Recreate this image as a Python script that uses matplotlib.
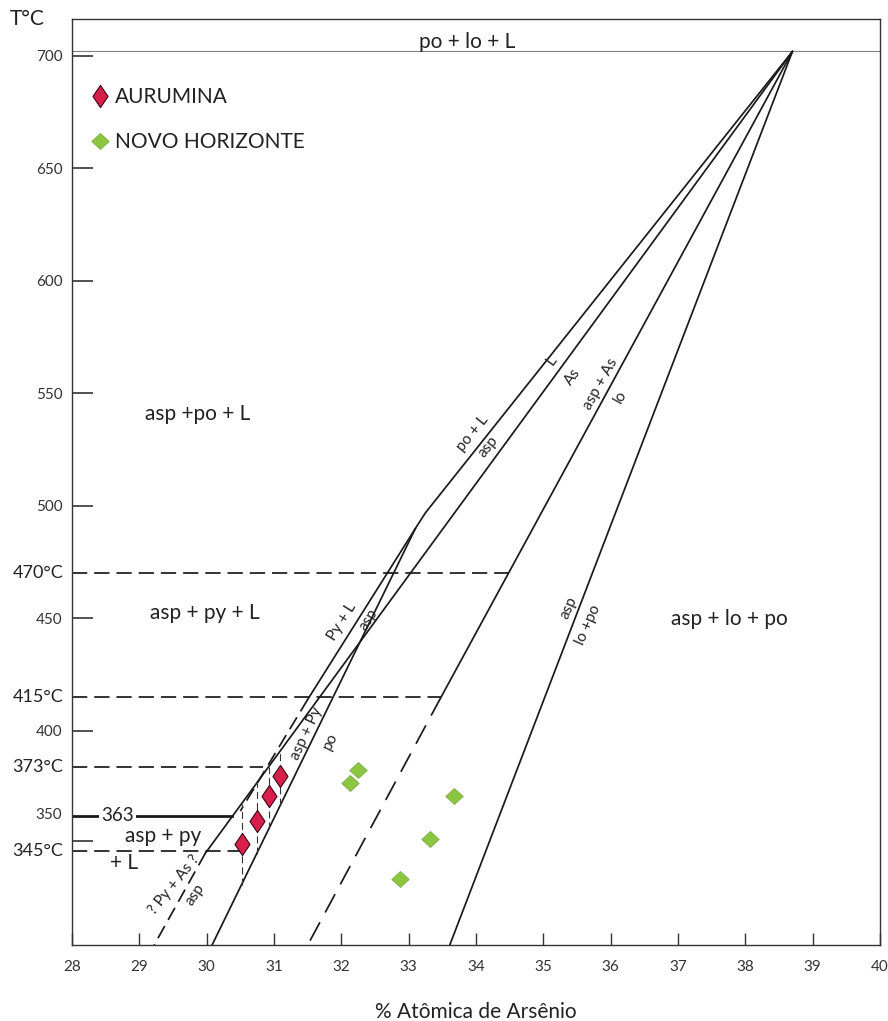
import numpy as np
import matplotlib
matplotlib.use("Agg")
import matplotlib.pyplot as plt
from matplotlib.path import Path
from matplotlib import transforms

plt.rcParams["font.family"] = ["Lato", "DejaVu Sans"]
plt.rcParams["lines.scale_dashes"] = False

# ---------------------------------------------------------------- data
# Arsenopyrite thermometer: at.% As vs temperature (°C)

# Aurumina samples and their temperature ranges
aur_x = [30.52, 30.74, 30.92, 31.09]
aur_T = [348.6, 360.4, 367.1, 371.2]
aur_T_low = [330.0, 343.7, 356.3, 365.3]
aur_T_high = [365.5, 369.7, 373.0, 385.0]

# Novo Horizonte samples
nov_x = [32.25, 32.13, 33.67, 33.32, 32.87]
nov_T = [372.4, 369.7, 367.1, 351.3, 332.5]

# Phase boundaries (solid parts)
bnd_poL_x, bnd_poL_T = [38.7, 33.25, 33.1], [702, 497, 490]          # po+L / asp
bnd_pyL_x, bnd_pyL_T = [33.1, 31.5], [490, 414]                      # py+L / asp
bnd_LAs_x, bnd_LAs_T = [38.7, 29.98], [702, 344]                     # L / As
bnd_aspPy_x, bnd_aspPy_T = [33.1, 30.08], [490, 303.2]               # asp+py / po
bnd_aspAs_x, bnd_aspAs_T = [38.7, 33.48], [702, 415]                 # asp+As / lo
bnd_lopo_x, bnd_lopo_T = [38.7, 33.61], [702, 303.2]                 # asp / lo+po

# Phase boundaries (inferred, dashed parts)
dash_pyL_x, dash_pyL_T = [31.5, 30.5], [414, 364]
dash_pyAs_x, dash_pyAs_T = [29.98, 29.22], [344, 303.2]
dash_aspAs_x, dash_aspAs_T = [33.48, 31.5], [415, 303.2]

# Isotherms: temperature and the composition where each one stops
iso_T = [470, 415, 373, 345]
iso_x_end = [34.48, 33.48, 30.84, 30.51]
iso_labels = ["470°C", "415°C", "373°C", "345°C"]
eut_T, eut_x_end = 363, 30.38
top_T = 702

x_ticks = list(range(28, 41))
y_ticks = [700, 650, 600, 550, 500, 450, 400, 350]
y_ticklabels = ["700", "650", "600", "550", "500", "450", "400", ""]

# Temperature axis is stretched between 345 and 400 °C
T_anchor = np.array([200.0, 345.0, 363.0, 373.0, 400.0, 800.0])
u_anchor = np.array([201.67, 346.67, 362.22, 384.0, 400.0, 800.0])


def fwd(t):
    return np.interp(t, T_anchor, u_anchor)


def inv(u):
    return np.interp(u, u_anchor, T_anchor)


# ---------------------------------------------------------------- figure
fig = plt.figure(figsize=(8.88, 10.21), dpi=100)
ax = fig.add_axes([0.0811, 0.0744, 0.9099, 0.9070])
ax.set_yscale("function", functions=(fwd, inv))
ax.set_xlim(28, 40)
ax.set_ylim(303.2, 716.4)

INK = "#1a1a1a"
LW = 1.25

# solid boundaries
for bx, bT in [(bnd_poL_x, bnd_poL_T), (bnd_pyL_x, bnd_pyL_T),
               (bnd_LAs_x, bnd_LAs_T), (bnd_aspPy_x, bnd_aspPy_T),
               (bnd_aspAs_x, bnd_aspAs_T), (bnd_lopo_x, bnd_lopo_T)]:
    ax.plot(bx, bT, color=INK, lw=LW, solid_capstyle="round", zorder=3)

# dashed boundaries
ax.plot(dash_pyL_x, dash_pyL_T, color=INK, lw=LW, dashes=(10, 5), zorder=3)
ax.plot(dash_pyAs_x, dash_pyAs_T, color=INK, lw=LW, dashes=(10, 5), zorder=3)
ax.plot(dash_aspAs_x, dash_aspAs_T, color=INK, lw=LW, dashes=(15, 8), zorder=3)

# isotherms
for T, xe in zip(iso_T, iso_x_end):
    ax.plot([28, xe], [T, T], color=INK, lw=LW, dashes=(11, 5), zorder=2)
ax.plot([28, eut_x_end], [eut_T, eut_T], color=INK, lw=2.0, zorder=2)
ax.axhline(top_T, color="#808080", lw=0.8, zorder=2)

# sample temperature ranges
ax.vlines(aur_x, aur_T_low, aur_T_high, color="#333333", lw=0.8,
          linestyles=(0, (5, 3)), zorder=4)

# markers
tall_diamond = Path([(0, 1), (0.68, 0), (0, -1), (-0.68, 0), (0, 1)],
                    [Path.MOVETO, Path.LINETO, Path.LINETO, Path.LINETO, Path.CLOSEPOLY])
square_diamond = Path([(0, 0.92), (1, 0), (0, -0.92), (-1, 0), (0, 0.92)],
                      [Path.MOVETO, Path.LINETO, Path.LINETO, Path.LINETO, Path.CLOSEPOLY])

h_aur, = ax.plot(aur_x, aur_T, ls="none", marker=tall_diamond, ms=16,
                 mfc="#d81f4b", mec="#3a0a14", mew=0.8, zorder=6,
                 label="AURUMINA")
h_nov, = ax.plot(nov_x, nov_T, ls="none", marker=square_diamond, ms=12.5,
                 mfc="#8cc63f", mec="#79ad45", mew=0.6, zorder=6,
                 label="NOVO HORIZONTE")

leg = ax.legend(handles=[h_aur, h_nov], loc="upper left",
                bbox_to_anchor=(0.022, 0.9265), frameon=False, fontsize=15,
                handlelength=1.0, handletextpad=0.2, labelspacing=1.2,
                borderpad=0, borderaxespad=0, numpoints=1)
for t in leg.get_texts():
    t.set_color("#222222")

# field labels
fields = ["po + lo + L", "asp +po + L", "asp + py + L", "asp + lo + po",
          "asp + py", "+ L"]
fields_x = [33.87, 29.86, 29.975, 37.76, 29.35, 28.77]
fields_T = [706.2, 540.9, 452.4, 449.8, 352.5, 339.5]
for s, fx, fT in zip(fields, fields_x, fields_T):
    ax.text(fx, fT, s, fontsize=15, ha="center", va="center",
            color="#222222", zorder=5)

# labels along boundaries
edge_labels = ["po + L", "asp", "L", "As", "asp + As", "lo", "Py + L", "asp",
               "asp + Py", "po", "? Py + As ?", "asp", "asp", "lo +po"]
edge_x = [33.95, 34.18, 35.13, 35.44, 35.85, 36.15, 32.01, 32.40,
          31.49, 31.84, 29.52, 29.82, 35.37, 35.66]
edge_T = [532.4, 526.2, 564.5, 557.3, 554.2, 548.4, 448.4, 449.3,
          398.0, 392.5, 330.0, 325.8, 454.7, 447.1]
edge_rot = [51, 51, 54, 54, 61, 61, 58, 58, 65, 64, 51, 56, 66, 66]
for s, ex, eT, r in zip(edge_labels, edge_x, edge_T, edge_rot):
    ax.text(ex, eT, s, fontsize=11, ha="center", va="center",
            rotation=r, rotation_mode="anchor", color="#222222", zorder=5)

# eutectic label interrupting the thick line
ax.text(28.68, eut_T, "363", fontsize=13.5, ha="center", va="center",
        color="#222222", zorder=5,
        bbox=dict(facecolor="white", edgecolor="none", pad=1.5))

# axes styling
for sp in ax.spines.values():
    sp.set_color("#333333")
    sp.set_linewidth(1.0)

ax.set_xticks(x_ticks)
ax.set_xticklabels([str(v) for v in x_ticks])
ax.tick_params(axis="x", direction="in", length=8.5, width=1.0,
               color="#333333", labelsize=11, pad=11, labelcolor="#333333")
ax.set_yticks(y_ticks)
ax.set_yticklabels(y_ticklabels)
ax.yaxis.set_minor_locator(matplotlib.ticker.NullLocator())
ax.tick_params(axis="y", direction="in", length=15, width=1.2,
               color="#333333", labelsize=11, pad=7, labelcolor="#333333")

ylab_tr = transforms.blended_transform_factory(ax.transAxes, ax.transData)
for T, s in zip(iso_T, iso_labels):
    ax.text(-0.011, T, s, transform=ylab_tr, fontsize=13, ha="right",
            va="center", color="#222222")
# label of the 350 tick, set level with the 363 line
ax.annotate("350", xy=(0, 350), xycoords=ylab_tr, xytext=(-7, 18.7),
            textcoords="offset points", fontsize=11, ha="right", va="center",
            color="#333333")

fig.text(27 / 888, 1 - 19 / 1021, "T°C", fontsize=15, ha="center",
         va="center", color="#222222")
ax.set_xlabel("% Atômica de Arsênio", fontsize=15, labelpad=20,
              color="#222222")

fig.savefig("out.png", dpi=100, facecolor="white")
